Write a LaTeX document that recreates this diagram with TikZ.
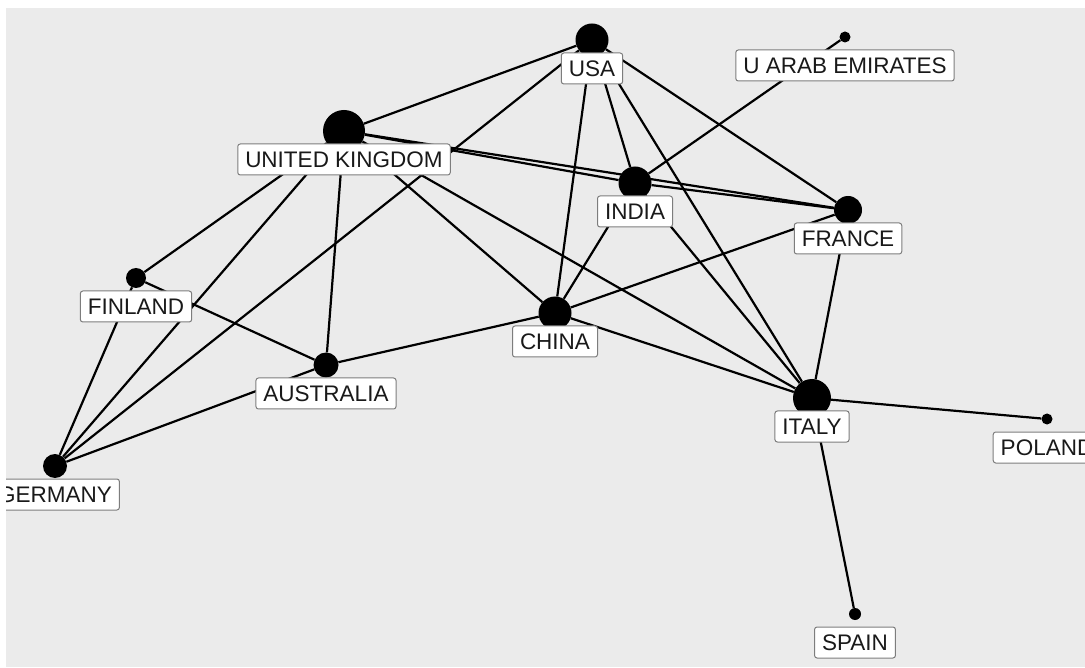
\documentclass[tikz,border=0pt]{standalone}
\usepackage{fontspec}
\setmainfont{Liberation Sans}
\usetikzlibrary{positioning}
\definecolor{fondo}{RGB}{235,235,235}
\definecolor{borde}{RGB}{125,125,125}
\definecolor{tinta}{RGB}{25,25,25}
\tikzset{
  nodo/.style={circle, fill=black, inner sep=0pt, minimum size=#1},
  etq/.style={draw=borde, fill=white, rounded corners=2.5pt, line width=1pt, text=tinta,
    inner xsep=7.5pt, inner ysep=0pt, minimum height=31pt, text height=16pt, text depth=0pt,
    font=\fontsize{22.5}{27}\selectfont},
  arista/.style={line width=2.2pt, black},
}
\begin{document}
\begin{tikzpicture}[x=1pt, y=-1pt]
  \useasboundingbox (0,0) rectangle (1085,668);
  \fill[fondo] (6,8) rectangle (1085,667);
  \begin{scope}
  \clip (6,8) rectangle (1085,667);
  % vertices
  \node[nodo=33pt] (usa) at (592,40) {};
  \node[nodo=42pt] (uk) at (344,131) {};
  \node[nodo=11pt] (uae) at (845,37) {};
  \node[nodo=33pt] (india) at (635,183) {};
  \node[nodo=28pt] (france) at (848,210) {};
  \node[nodo=20pt] (finland) at (136,278) {};
  \node[nodo=25pt] (australia) at (326,365) {};
  \node[nodo=33pt] (china) at (555,313) {};
  \node[nodo=38pt] (italy) at (812,398) {};
  \node[nodo=11pt] (poland) at (1047,419) {};
  \node[nodo=24pt] (germany) at (55,466) {};
  \node[nodo=12pt] (spain) at (855,614) {};
  % edges
  \draw[arista] (usa) -- (uk);
  \draw[arista] (usa) -- (germany);
  \draw[arista] (usa) -- (china);
  \draw[arista] (usa) -- (india);
  \draw[arista] (usa) -- (italy);
  \draw[arista] (usa) -- (france);
  \draw[arista] (uk) -- (india);
  \draw[arista] (uk) -- (france);
  \draw[arista] (uk) -- (finland);
  \draw[arista] (uk) -- (germany);
  \draw[arista] (uk) -- (australia);
  \draw[arista] (uk) -- (china);
  \draw[arista] (uk) -- (italy);
  \draw[arista] (uae) -- (india);
  \draw[arista] (india) -- (france);
  \draw[arista] (india) -- (china);
  \draw[arista] (india) -- (italy);
  \draw[arista] (france) -- (china);
  \draw[arista] (france) -- (italy);
  \draw[arista] (finland) -- (australia);
  \draw[arista] (finland) -- (germany);
  \draw[arista] (germany) -- (australia);
  \draw[arista] (australia) -- (china);
  \draw[arista] (china) -- (italy);
  \draw[arista] (italy) -- (poland);
  \draw[arista] (italy) -- (spain);
  % labels
  \node[etq, below=12.5pt of usa.center] (usa-t) {USA};
  \node[etq, below=12.5pt of uk.center] (uk-t) {UNITED KINGDOM};
  \node[etq, below=12.5pt of uae.center] (uae-t) {U ARAB EMIRATES};
  \node[etq, below=12.5pt of india.center] (india-t) {INDIA};
  \node[etq, below=12.5pt of france.center] (france-t) {FRANCE};
  \node[etq, below=12.5pt of finland.center] (finland-t) {FINLAND};
  \node[etq, below=12.5pt of australia.center] (australia-t) {AUSTRALIA};
  \node[etq, below=12.5pt of china.center] (china-t) {CHINA};
  \node[etq, below=12.5pt of italy.center] (italy-t) {ITALY};
  \node[etq, below=12.5pt of poland.center] (poland-t) {POLAND};
  \node[etq, below=12.5pt of germany.center] (germany-t) {GERMANY};
  \node[etq, below=12.5pt of spain.center] (spain-t) {SPAIN};
  \end{scope}
\end{tikzpicture}
\end{document}
